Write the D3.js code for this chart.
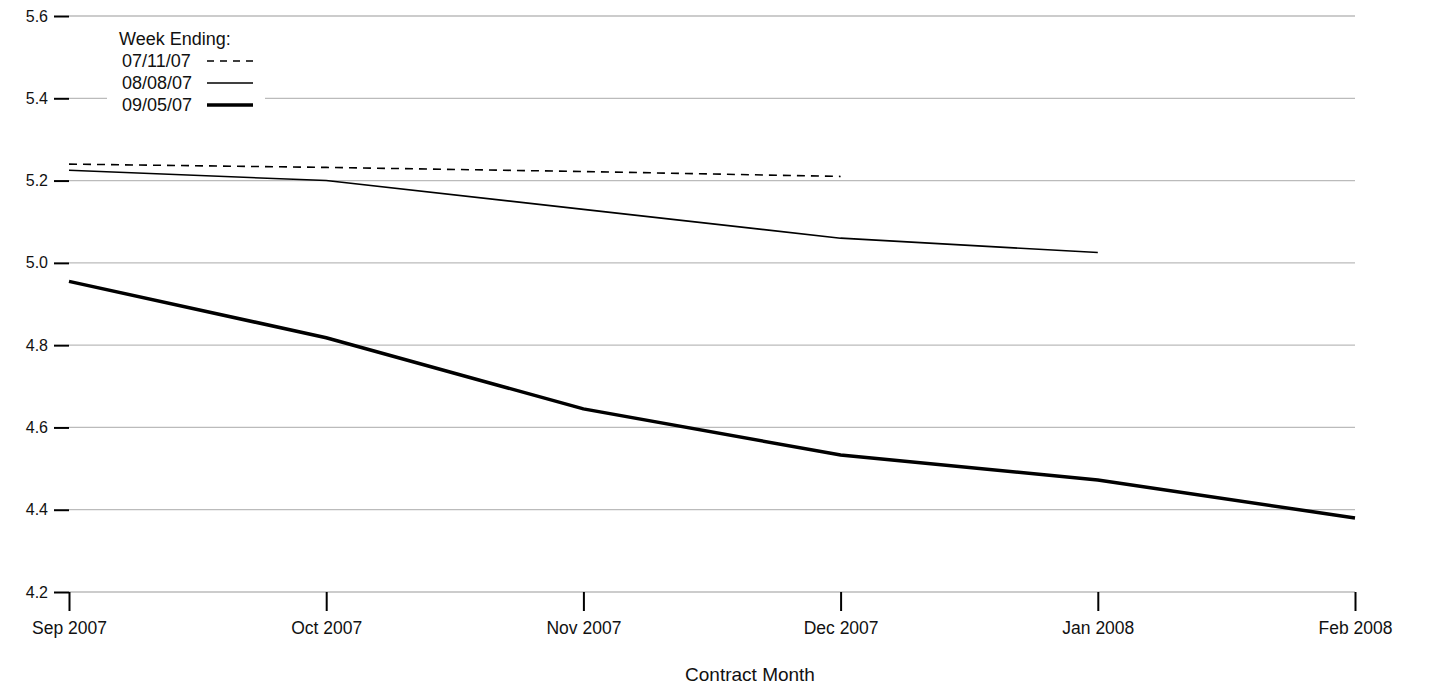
<!DOCTYPE html>
<meta charset="utf-8">
<script src="https://d3js.org/d3.v7.min.js"></script>
<style>body{margin:0;background:#fff;} text{font-family:"Liberation Sans",Arial,sans-serif;}</style>
<div id="chart"></div>
<script>
// contract months and settlement prices for each week
var months = ["Sep 2007", "Oct 2007", "Nov 2007", "Dec 2007", "Jan 2008", "Feb 2008"];
var week1 = [5.24, 5.232, 5.222, 5.21];               // 07/11/07
var week2 = [5.225, 5.20, 5.13, 5.06, 5.025];         // 08/08/07
var week3 = [4.955, 4.818, 4.645, 4.533, 4.472, 4.38]; // 09/05/07
var yTicks = [4.2, 4.4, 4.6, 4.8, 5.0, 5.2, 5.4, 5.6];
var legendLabels = ["07/11/07", "08/08/07", "09/05/07"];

var W = 1434, H = 687;
var svg = d3.select("#chart").append("svg").attr("width", W).attr("height", H);

var x = d3.scalePoint().domain(months).range([69, 1355]);
var y = d3.scaleLinear().domain([4.2, 5.6]).range([592, 16]);

// grid
svg.selectAll(".grid").data(yTicks).enter().append("line")
  .attr("x1", 69).attr("x2", 1355)
  .attr("y1", function(d) { return y(d); }).attr("y2", function(d) { return y(d); })
  .attr("stroke", "#bbb").attr("stroke-width", 1.3);

// y axis: tick marks only
var yAxis = svg.append("g").attr("transform", "translate(69,0)")
  .call(d3.axisLeft(y).tickValues(yTicks).tickFormat(d3.format(".1f")).tickSize(15).tickPadding(6));
yAxis.select(".domain").remove();
yAxis.selectAll("line").attr("stroke-width", 2);
yAxis.selectAll("text").attr("font-size", 16).attr("fill", "#111").attr("font-family", "Liberation Sans, Arial, sans-serif");

var xAxis = svg.append("g").attr("transform", "translate(0,592)")
  .call(d3.axisBottom(x).tickSize(19).tickPadding(11));
xAxis.select(".domain").remove();
xAxis.selectAll("line").attr("stroke-width", 2);
xAxis.selectAll("text").attr("font-size", 17.5).attr("fill", "#111").attr("font-family", "Liberation Sans, Arial, sans-serif");

svg.append("text").attr("x", 750).attr("y", 681).attr("text-anchor", "middle")
  .attr("font-size", 19).attr("fill", "#111").text("Contract Month");

var line = d3.line().x(function(d, i) { return x(months[i]); }).y(function(d) { return y(d); });
var series = [
  {data: week1, w: 1.6, dash: "8,6"},
  {data: week2, w: 1.6, dash: null},
  {data: week3, w: 3.5, dash: null}
];
svg.selectAll(".series").data(series).enter().append("path")
  .attr("d", function(d) { return line(d.data); })
  .attr("fill", "none").attr("stroke", "#000")
  .attr("stroke-width", function(d) { return d.w; })
  .attr("stroke-dasharray", function(d) { return d.dash; });

// legend
var lg = svg.append("g");
lg.append("rect").attr("x", 107).attr("y", 25).attr("width", 158).attr("height", 90).attr("fill", "#fff");
lg.append("text").attr("x", 119).attr("y", 45).attr("font-size", 18).attr("fill", "#111").text("Week Ending:");
lg.selectAll(".li").data(legendLabels).enter().append("text")
  .attr("x", 122).attr("y", function(d, i) { return 67 + i * 22; })
  .attr("font-size", 18).attr("fill", "#111").text(function(d) { return d; });
lg.selectAll(".ll").data(series).enter().append("line")
  .attr("x1", 207).attr("x2", 253)
  .attr("y1", function(d, i) { return 61 + i * 22; }).attr("y2", function(d, i) { return 61 + i * 22; })
  .attr("stroke", "#000").attr("stroke-width", function(d) { return d.w; })
  .attr("stroke-dasharray", function(d) { return d.dash ? "7,6" : null; });
</script>
